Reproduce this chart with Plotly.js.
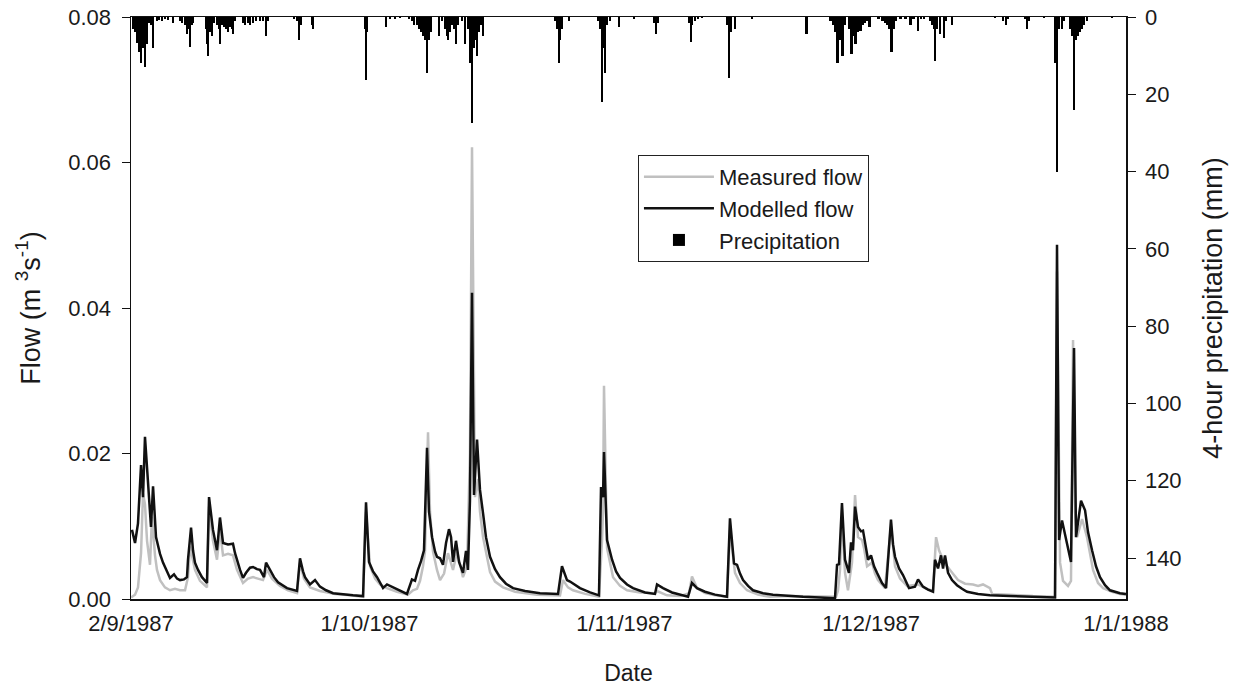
<!DOCTYPE html>
<html>
<head>
<meta charset="utf-8">
<script src="https://cdn.plot.ly/plotly-3.0.1.min.js"></script>
<style>html,body{margin:0;padding:0;background:#fff;}#chart{width:1237px;height:687px;}</style>
</head>
<body>
<div id="chart"></div>
<script>
// Days since 2 Sep 1987 00:00
const measuredDays = [0,0.49,0.85,1.22,1.46,1.70,1.95,2.31,2.55,2.92,3.16,3.53,4.13,4.74,5.35,5.96,6.57,6.93,7.18,7.54,7.78,8.39,9.24,9.49,9.97,10.46,10.82,11.19,11.80,12.40,12.89,13.62,14.23,14.84,15.44,16.05,16.54,17.15,18.12,19.09,20.19,20.55,21.04,21.77,22.98,24.81,26.63,28.22,28.58,29.07,29.68,30.28,31.13,32.35,33.69,34.29,34.78,35.15,35.51,35.75,36.12,36.36,36.73,37.21,37.58,38.07,38.55,38.79,39.16,39.65,40.01,40.37,40.86,41.22,41.47,41.71,41.83,42.20,42.44,42.81,43.29,43.66,44.27,45.24,46.70,49.37,52.17,52.54,53.14,53.75,55.23,56.91,57.28,57.40,57.52,57.77,57.89,58.62,59.47,60.32,61.90,63.72,63.97,65.18,66.76,67.86,68.22,68.83,69.80,71.02,72.48,72.84,73.45,74.06,74.91,76.25,77.71,80.14,82.21,84.40,85.74,85.98,86.22,86.46,86.83,87.19,87.68,88.05,88.41,88.90,89.14,89.51,90.11,90.48,90.84,91.69,92.42,92.91,93.52,94.37,94.98,95.71,96.56,97.53,97.90,98.26,98.75,99.11,99.60,100.57,101.43,102.40,103.01,103.61,104.46,104.71,106.90,108.12,109.69,112.37,112.61,112.98,113.34,113.95,114.31,114.56,114.80,115.05,115.66,116.26,116.99,117.60,118.21,119.30,120.27,121.0];
const measuredFlow = [0.0002,0.0006,0.0016,0.0063,0.0145,0.013,0.008,0.0047,0.0113,0.006,0.004,0.0026,0.0016,0.0012,0.0014,0.0012,0.0012,0.003,0.0072,0.0055,0.004,0.0025,0.0016,0.0127,0.008,0.0054,0.0095,0.006,0.0062,0.006,0.004,0.0022,0.0028,0.003,0.0028,0.0026,0.004,0.0028,0.0018,0.0012,0.0008,0.005,0.0028,0.0016,0.0011,0.0007,0.0005,0.0003,0.012,0.0045,0.0028,0.002,0.0015,0.001,0.0006,0.0012,0.0014,0.0025,0.0045,0.0065,0.0229,0.012,0.0065,0.004,0.0026,0.0035,0.0063,0.0055,0.004,0.0065,0.0045,0.003,0.0045,0.02,0.0621,0.025,0.014,0.0165,0.012,0.0085,0.0055,0.0037,0.0024,0.0016,0.001,0.0006,0.0005,0.0026,0.0016,0.0012,0.0007,0.0003,0.008,0.012,0.0293,0.012,0.007,0.003,0.0018,0.0012,0.0009,0.0008,0.0011,0.0005,0.0004,0.0008,0.0031,0.0015,0.0008,0.0005,0.0003,0.0095,0.0036,0.0022,0.0012,0.0006,0.0003,0.0004,0.0004,0.0003,0.0003,0.0012,0.004,0.011,0.0036,0.0012,0.005,0.0143,0.0085,0.0081,0.007,0.0045,0.005,0.0035,0.0026,0.0015,0.01,0.0045,0.0028,0.0018,0.0019,0.002,0.0015,0.0011,0.0085,0.0067,0.0054,0.0047,0.004,0.0026,0.0021,0.002,0.0018,0.002,0.0015,0.0007,0.0006,0.0005,0.0004,0.0003,0.045,0.005,0.0025,0.0018,0.0025,0.0356,0.012,0.0085,0.011,0.0085,0.004,0.0022,0.0015,0.001,0.0007,0.0006];

const modelledDays = [0.12,0.49,0.85,1.22,1.46,1.70,2.43,2.68,3.04,3.53,3.89,4.38,4.74,5.23,5.60,5.96,6.45,6.81,6.93,7.30,7.54,7.78,8.15,8.63,9.24,9.49,9.97,10.46,10.82,11.19,11.80,12.40,12.65,13.26,13.62,13.99,14.47,14.84,15.32,15.69,16.17,16.42,16.90,17.39,17.88,18.48,18.97,20.19,20.55,20.92,21.16,21.77,22.38,22.98,23.72,24.57,25.79,27.00,28.22,28.58,28.94,29.43,29.92,30.65,31.13,31.74,32.35,32.96,33.56,34.17,34.54,34.90,35.27,35.63,36.00,36.24,36.61,36.98,37.21,37.58,37.94,38.31,38.67,38.92,39.16,39.52,39.89,40.37,40.74,40.98,41.22,41.47,41.71,42.08,42.44,42.81,43.17,43.66,44.27,44.87,45.60,46.46,47.92,49.74,51.93,52.41,52.78,53.02,53.39,54.00,54.60,55.82,56.91,57.16,57.40,57.52,57.89,58.50,58.99,59.47,60.32,61.05,62.51,63.72,63.97,64.70,65.79,67.74,68.22,68.83,69.80,71.02,72.48,72.84,73.33,73.70,74.06,74.43,75.04,75.64,76.86,78.07,79.90,81.72,83.79,85.61,85.86,86.10,86.46,86.83,87.31,87.56,87.80,88.05,88.41,88.78,89.02,89.38,89.63,89.99,90.36,90.72,91.33,91.82,92.42,92.67,92.91,93.40,93.88,94.61,95.10,95.34,95.71,96.31,96.92,97.53,97.77,98.14,98.50,98.75,98.99,99.36,99.84,100.45,101.06,101.67,103.01,104.46,106.90,109.69,112.37,112.61,112.86,113.22,113.46,113.83,114.31,114.68,114.92,115.16,115.53,116.02,116.38,116.87,117.35,117.84,118.45,119.06,119.66,120.27,121.0];
const modelledFlow = [0.0095,0.0077,0.0104,0.0184,0.014,0.0223,0.0099,0.0155,0.0085,0.0062,0.005,0.0037,0.0029,0.0034,0.0028,0.0026,0.0027,0.003,0.0054,0.0098,0.0067,0.005,0.004,0.003,0.0022,0.014,0.0095,0.0067,0.0112,0.0077,0.0075,0.0076,0.0063,0.004,0.0029,0.0036,0.0043,0.0044,0.0041,0.004,0.003,0.005,0.004,0.003,0.0023,0.0018,0.0015,0.0011,0.0056,0.0038,0.003,0.002,0.0026,0.0017,0.0012,0.0008,0.0006,0.0005,0.0004,0.0133,0.0051,0.0038,0.003,0.0015,0.002,0.0017,0.0014,0.001,0.0007,0.0027,0.0025,0.004,0.0052,0.0067,0.0208,0.012,0.0085,0.0065,0.0058,0.0056,0.0047,0.0077,0.0096,0.0085,0.0051,0.008,0.0051,0.0036,0.0066,0.004,0.0135,0.0421,0.0143,0.0219,0.015,0.0118,0.0085,0.0058,0.0041,0.003,0.0021,0.0015,0.0011,0.0008,0.0007,0.0045,0.0032,0.0026,0.0024,0.0019,0.0015,0.0009,0.0005,0.0154,0.014,0.0202,0.0081,0.0054,0.0038,0.0029,0.002,0.0015,0.0009,0.0007,0.002,0.0015,0.0009,0.0003,0.0022,0.0015,0.001,0.0006,0.0003,0.0111,0.0049,0.0047,0.0035,0.0026,0.0018,0.0012,0.0008,0.0006,0.0004,0.0003,0.0002,0.0001,0.0047,0.0048,0.0132,0.0054,0.0036,0.0078,0.0067,0.0127,0.0099,0.0093,0.0094,0.0068,0.0054,0.006,0.0045,0.0036,0.0022,0.0015,0.0109,0.0075,0.0058,0.0042,0.0033,0.0015,0.0017,0.0017,0.0027,0.0017,0.0013,0.001,0.0054,0.0042,0.006,0.0042,0.006,0.0036,0.0026,0.0019,0.0014,0.001,0.0007,0.0005,0.0004,0.0003,0.0002,0.0487,0.0081,0.0108,0.0095,0.0077,0.0051,0.0345,0.0085,0.0105,0.0135,0.0122,0.0092,0.0067,0.0045,0.003,0.0019,0.0012,0.001,0.0008,0.0007];

const precipDays = [0.24,0.49,0.73,0.97,1.22,1.46,1.70,1.95,2.19,2.43,2.68,3.16,3.41,3.77,4.13,4.50,5.11,5.96,6.20,6.57,6.81,7.05,7.18,7.42,7.54,9.12,9.24,9.37,9.61,9.85,10.09,10.46,10.70,10.82,11.07,11.31,11.55,11.80,12.04,12.28,12.40,12.65,13.62,13.86,14.23,14.47,14.84,15.20,15.69,16.05,16.42,16.66,19.82,20.19,20.43,20.67,22.01,22.13,28.46,28.58,28.70,31.01,31.50,32.11,32.71,33.81,34.17,34.41,34.78,35.02,35.27,35.51,35.75,36.00,36.24,36.48,37.46,37.82,38.19,38.43,38.55,38.79,39.04,39.28,39.52,39.77,40.25,40.62,40.98,41.22,41.47,41.71,41.96,42.08,42.32,42.56,42.81,51.56,51.81,52.05,52.17,52.41,53.27,56.79,57.04,57.28,57.52,57.64,57.89,58.25,59.35,61.17,63.60,63.84,64.09,67.86,68.10,68.22,68.59,68.95,69.44,72.48,72.72,72.97,73.45,75.52,82.15,85.07,85.43,85.67,85.92,86.16,86.52,86.77,87.37,87.62,87.86,88.10,88.35,88.71,88.96,89.20,89.44,89.81,90.90,91.39,91.76,92.00,92.24,92.49,92.73,92.97,93.58,94.19,94.80,95.16,95.71,96.07,96.44,97.17,97.41,97.65,97.77,98.02,98.38,98.87,99.11,99.84,105.07,106.04,106.41,106.65,108.72,108.96,109.20,111.03,112.37,112.61,112.86,113.22,113.46,114.19,114.44,114.68,114.92,115.16,115.41,115.65,115.89,116.26,119.30];
const precipMM = [3,4,6.7,9,12,8,13,7,1.5,2,8,1,0.8,1,0.5,0.8,1.5,1,1.5,2,4.5,3,7.7,2,1.5,3,7,10,4,5,1.5,2,3,7,2,2.5,3,4,2.5,3,4.4,1,1.5,2,1.5,2,1.5,1,1,1,5,1,0.5,1,6,2,2,3,3,16.3,4,2.5,0.5,0.5,0.3,0.5,1,2,2,3,4,5,6,14.4,6,4,5,1,3,5,6,4,2,3,7,2,1,7,3,12,27.5,8,6,10,4,2,5,1,3,12,6,3,1,1,3,22,8,14.5,2,1,2.6,0.5,1.5,4.5,1.5,1.5,6.4,2,1,0.5,0.3,2,15.8,4,3,0.5,4.5,1,2,4,12,6,10,2,3,9.5,5,7,4,3.5,2,1.5,1,2.5,0.5,1,1.5,2,3,9,3,1,0.5,0.5,2,0.5,3.5,0.5,0.5,1,2,3,11.5,3,4.5,5.5,1,2,0.3,1,2,0.5,0.5,3,1,0.3,12,40,3,3,1,3,5,24,6,5,4,3,2,1,0.3];

const tickDates = ['1987-09-02','1987-10-01','1987-11-01','1987-12-01','1988-01-01'];
const tickLabels = ['2/9/1987','1/10/1987','1/11/1987','1/12/1987','1/1/1988'];
const flowTicks = [0,0.02,0.04,0.06,0.08];
const precipTicks = [0,20,40,60,80,100,120,140];

const t0 = Date.UTC(1987, 8, 2);
function toDate(d) {
  return new Date(t0 + d * 86400000).toISOString().replace('T', ' ').slice(0, 19);
}

const FONT = 'Liberation Sans, Arial, Helvetica, sans-serif';
const TXT = '#1a1a1a';
const TICKSIZE = 22;

const traces = [
  {
    x: measuredDays.map(toDate), y: measuredFlow, type: 'scatter', mode: 'lines',
    name: 'Measured flow', line: {color: '#c0c0c0', width: 2.5}, xaxis: 'x', yaxis: 'y'
  },
  {
    x: modelledDays.map(toDate), y: modelledFlow, type: 'scatter', mode: 'lines',
    name: 'Modelled flow', line: {color: '#111111', width: 2.5}, xaxis: 'x', yaxis: 'y'
  },
  {
    x: precipDays.map(toDate), y: precipMM, type: 'bar', name: 'Precipitation',
    width: 0.26 * 86400000, marker: {color: '#000000', line: {width: 0}},
    xaxis: 'x', yaxis: 'y2'
  }
];

const layout = {
  width: 1237, height: 687,
  margin: {l: 131, r: 111, t: 17, b: 88, pad: 0},
  paper_bgcolor: '#ffffff', plot_bgcolor: '#ffffff',
  font: {family: FONT, size: TICKSIZE, color: TXT},
  showlegend: true,
  bargap: 0,
  legend: {
    x: 0.5095, y: 0.763, xanchor: 'left', yanchor: 'top',
    bgcolor: '#ffffff', bordercolor: '#222222', borderwidth: 1,
    font: {family: FONT, size: 22, color: TXT},
    itemwidth: 70, tracegroupgap: 0
  },
  xaxis: {
    type: 'date', range: ['1987-09-02', '1988-01-01'],
    tickvals: tickDates, ticktext: tickLabels, ticks: '',
    showgrid: false, zeroline: false, showline: true, linecolor: '#111', linewidth: 1.5,
    mirror: true, tickfont: {family: FONT, size: TICKSIZE, color: TXT}, ticklabelstandoff: 4,
    title: {text: 'Date', font: {family: FONT, size: 23, color: TXT}, standoff: 30}
  },
  yaxis: {
    range: [0, 0.08], tickvals: flowTicks, tickformat: '.2f',
    ticks: 'outside', ticklen: 8, tickwidth: 1, tickcolor: '#111',
    showgrid: false, zeroline: false, showline: true, linecolor: '#111', linewidth: 1.5,
    tickfont: {family: FONT, size: TICKSIZE, color: TXT}, ticklabelstandoff: 6,
    title: {text: 'Flow (m <sup>3</sup>s<sup>-1</sup>)', font: {family: FONT, size: 27, color: TXT}, standoff: 20}
  },
  yaxis2: {
    overlaying: 'y', side: 'right', range: [150.6, 0], tickvals: precipTicks,
    ticks: 'outside', ticklen: 8, tickwidth: 1, tickcolor: '#111',
    showgrid: false, zeroline: false, showline: true, linecolor: '#111', linewidth: 1.5,
    tickfont: {family: FONT, size: TICKSIZE, color: TXT}, ticklabelstandoff: 5,
    title: {text: '4-hour precipitation (mm)', font: {family: FONT, size: 27, color: TXT}, standoff: 22}
  }
};

Plotly.newPlot('chart', traces, layout, {displayModeBar: false, staticPlot: true});
</script>
</body>
</html>
